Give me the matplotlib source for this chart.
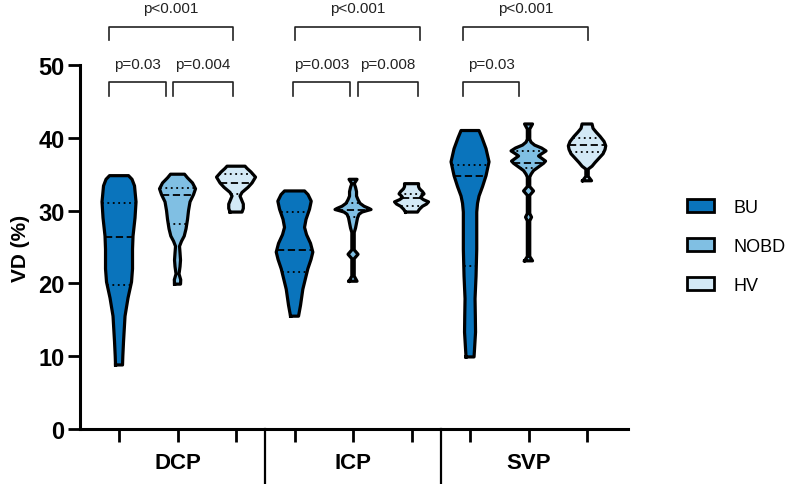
import matplotlib.pyplot as plt
import numpy as np
from matplotlib.patches import Patch

plt.rcParams['font.family'] = ['Liberation Sans', 'DejaVu Sans']

groups = ['DCP', 'ICP', 'SVP']
cohorts = ['BU', 'NOBD', 'HV']
colors = ['#0A74BC', '#80BFE3', '#D3E9F6']

# violin outlines: VD values (bottom -> top) and relative half widths
dcp_bu_vd = [8.8, 10, 12, 15.5, 18, 20.2, 22, 24.7, 26.5, 29, 31.2, 33.4, 34.3, 34.8]
dcp_bu_w = [3.5, 3.8, 4.5, 6, 9, 12.5, 13.5, 13.5, 14, 16, 17, 15.5, 13, 9.5]
dcp_nobd_vd = [19.9, 20.5, 21.3, 22.3, 23.2, 24.2, 25.1, 25.8, 26.5, 27.5, 28.8, 30.0, 31.2, 32.2, 33.0, 33.8, 34.5, 35.0]
dcp_nobd_w = [3, 3.2, 1.5, 2.5, 3, 2.5, 2, 4, 6.7, 8.5, 10, 11, 12.5, 16, 18, 15, 10, 7]
dcp_hv_vd = [29.8, 30.3, 30.9, 31.5, 32.0, 32.5, 33.2, 33.8, 34.6, 35.3, 35.8, 36.1]
dcp_hv_w = [6, 7.3, 7.3, 5.5, 4, 6, 12, 16, 19.5, 15, 11, 9]

icp_bu_vd = [15.5, 17, 19.2, 22.0, 23.3, 24.3, 25.5, 26.7, 27.7, 28.8, 30.2, 31.3, 32.2, 32.7]
icp_bu_w = [4, 6, 8.3, 13.3, 16.5, 18.3, 16, 12, 10, 11.5, 15, 16.7, 13.5, 10]
icp_nobd_vd = [20.3, 21.0, 23.4, 24.0, 24.6, 27.0, 27.6, 28.3, 29.0, 29.5, 29.8, 30.0, 30.15,
               30.3, 30.6, 31.0, 31.5, 32.0, 32.6, 33.2, 33.7, 34.3]
icp_nobd_w = [4, 1.2, 1.2, 5, 1.2, 1.2, 2.5, 3.5, 4.5, 6, 9, 14, 18,
              16, 11, 7, 5, 3.5, 3.5, 2.5, 1.2, 4]
icp_hv_vd = [29.8, 30.2, 30.6, 30.9, 31.2, 31.5, 31.8, 32.0, 32.3, 32.6, 33.0, 33.3, 33.7]
icp_hv_w = [6, 8, 11, 15, 17, 12, 9, 10, 12.5, 11, 8, 7, 7]

svp_bu_vd = [9.9, 11, 13.3, 15.5, 17.9, 21, 24.7, 27, 29.8, 31, 32, 33.3, 34.8, 36.7, 38.5, 40, 41]
svp_bu_w = [4, 4.5, 5.5, 5.3, 5, 6, 6.7, 6.7, 6.7, 7.5, 9, 12.5, 16, 19, 16, 12, 9]
svp_nobd_vd = [23.1, 23.7, 28.6, 29.1, 29.6, 32.1, 32.7, 33.3, 34.6, 35.0, 35.5, 36.0, 36.5, 36.8,
               37.2, 37.5, 37.8, 38.2, 38.6, 39.0, 39.4, 39.8, 41.2, 41.9]
svp_nobd_w = [4, 1.2, 1.2, 3, 1.2, 1.2, 5, 1.2, 1.2, 2.5, 5, 10, 15, 17,
              13, 10, 13, 17.5, 13, 6, 2.5, 1.2, 1.2, 4]
svp_hv_vd = [34.1, 34.7, 35.7, 36.1, 36.6, 37.2, 37.8, 38.4, 38.9, 39.5, 40.2, 40.8, 41.3, 41.9]
svp_hv_w = [4.5, 1.2, 1.2, 5, 8, 12, 16, 18, 18.7, 17, 13, 9, 6, 5]

# quartiles (Q1, median, Q3)
quartiles = [[19.8, 26.4, 31.0], [28.2, 32.1, 33.1], [32.3, 33.8, 35.0],
             [21.6, 24.6, 29.8], [29.1, 30.1, 31.1], [30.6, 31.7, 32.3],
             [22.4, 34.8, 36.3], [35.9, 36.6, 38.2], [38.0, 39.0, 40.0]]

violin_vd = [dcp_bu_vd, dcp_nobd_vd, dcp_hv_vd, icp_bu_vd, icp_nobd_vd, icp_hv_vd,
             svp_bu_vd, svp_nobd_vd, svp_hv_vd]
violin_w = [dcp_bu_w, dcp_nobd_w, dcp_hv_w, icp_bu_w, icp_nobd_w, icp_hv_w,
            svp_bu_w, svp_nobd_w, svp_hv_w]

# significance brackets
br_x0 = [-0.17, -0.17, 0.92, 3.01, 2.97, 4.09, 5.88, 5.88]
br_x1 = [1.95, 0.80, 1.95, 5.15, 3.95, 5.11, 8.02, 6.84]
br_upper = [True, False, False, True, False, False, True, False]
br_text = ['p<0.001', 'p=0.03', 'p=0.004', 'p<0.001', 'p=0.003', 'p=0.008', 'p<0.001', 'p=0.03']

fig = plt.figure(figsize=(8, 4.85), dpi=100)
ax = fig.add_axes([0.1, 0.1134, 0.685, 0.7505])

w_scale = 1 / 58.5
for i in range(9):
    vd = np.array(violin_vd[i])
    w = np.array(violin_w[i]) * w_scale
    xs = np.concatenate([i - w, (i + w)[::-1]])
    ys = np.concatenate([vd, vd[::-1]])
    ax.fill(xs, ys, facecolor=colors[i % 3], edgecolor='none', zorder=2)
    for k, q in enumerate(quartiles[i]):
        hw = np.interp(q, vd, w)
        ax.plot([i - hw, i + hw], [q, q], color='black', lw=1.3,
                ls=(0, (4, 2)) if k == 1 else (0, (1, 2)), zorder=3)
    ax.plot(np.append(xs, xs[0]), np.append(ys, ys[0]), color='black', lw=2.3,
            solid_joinstyle='round', zorder=4)

for x0, x1, up, t in zip(br_x0, br_x1, br_upper, br_text):
    top, leg, ty = (55.2, 53.4, 57.8) if up else (47.7, 45.7, 50.1)
    ax.plot([x0, x0, x1, x1], [leg, top, top, leg], color='#222222', lw=1.2, clip_on=False)
    ax.text((x0 + x1) / 2, ty, t, ha='center', va='center', fontsize=11, color='#222222')

ax.set_xlim(-0.667, 8.7)
ax.set_ylim(0, 50)
ax.set_yticks([0, 10, 20, 30, 40, 50])
ax.set_xticks(range(9))
ax.set_xticklabels([])
for lbl in ax.get_yticklabels():
    lbl.set_fontweight('bold')
ax.tick_params(axis='y', labelsize=17, length=9, width=2, pad=2)
ax.tick_params(axis='x', length=9, width=2)
for s in ['top', 'right']:
    ax.spines[s].set_visible(False)
for s in ['left', 'bottom']:
    ax.spines[s].set_linewidth(2.2)
ax.set_ylabel('VD (%)', fontsize=15, fontweight='bold', labelpad=6)

for g, name in enumerate(groups):
    ax.text(g * 3 + 1, -0.093, name, transform=ax.get_xaxis_transform(), ha='center',
            va='center', fontsize=16, fontweight='bold')
for sep in [2.5, 5.5]:
    ax.plot([sep, sep], [0, -0.17], transform=ax.get_xaxis_transform(), color='black',
            lw=1.6, clip_on=False)

handles = [Patch(facecolor=c, edgecolor='black', lw=2) for c in colors]
fig.legend(handles, cohorts, loc='center left', bbox_to_anchor=(687 / 800, 0.49),
           frameon=False, fontsize=13, handlelength=1.5, handleheight=0.72,
           labelspacing=1.2, handletextpad=1.05, borderpad=0, borderaxespad=0)

fig.savefig('out.png', dpi=100)
